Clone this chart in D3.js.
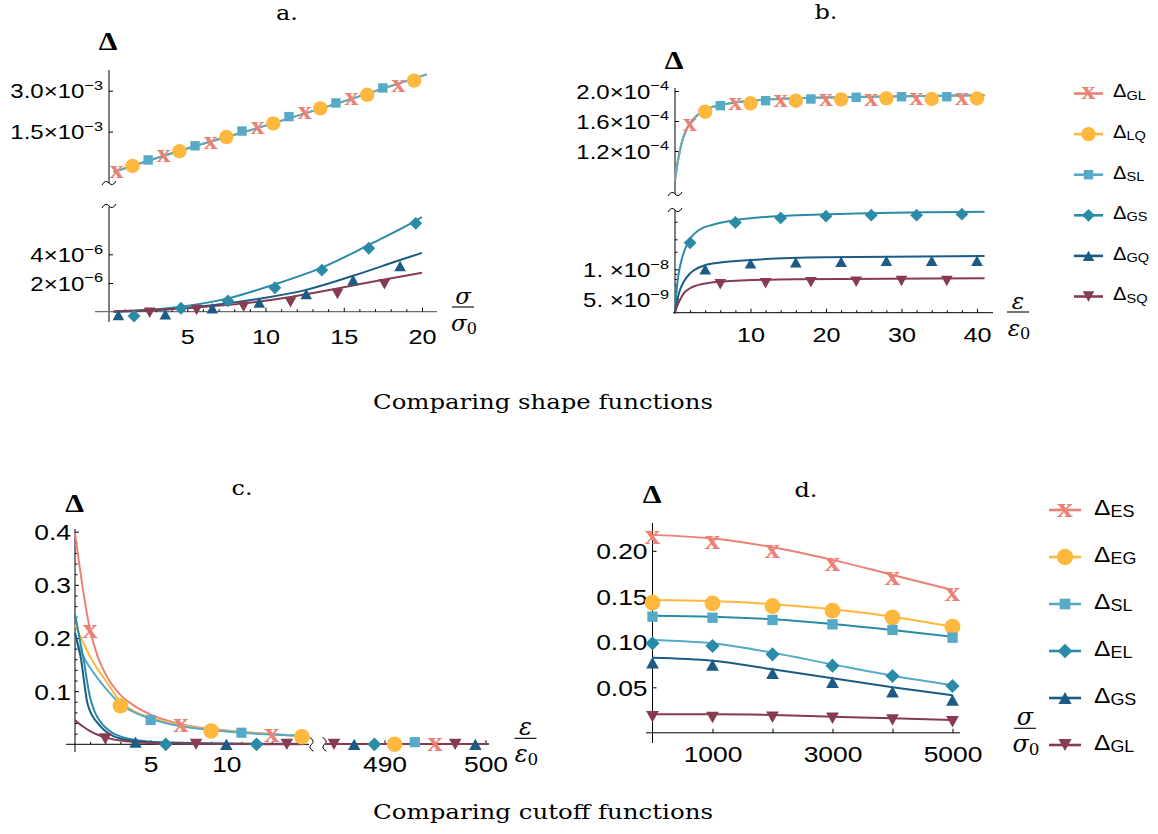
<!DOCTYPE html>
<html>
<head>
<meta charset="utf-8">
<script src="https://cdn.jsdelivr.net/npm/d3@7"></script>
<style>
  body { margin: 0; background: #fff; }
  svg { display: block; }
</style>
</head>
<body>
<svg id="fig" width="1158" height="834"></svg>
<script>
// ===================== data =====================
// Panel a: Δ against σ/σ0 (upper part ~1e-3, lower part ~1e-6)
const aMarkGL = [[0.5,0.005e-3],[3.5,0.58e-3],[6.5,1.09e-3],[9.5,1.62e-3],[12.5,2.17e-3],[15.5,2.68e-3],[18.5,3.17e-3]];
const aMarkLQ = [[1.5,0.24e-3],[4.5,0.78e-3],[7.5,1.30e-3],[10.5,1.80e-3],[13.5,2.35e-3],[16.5,2.85e-3],[19.5,3.37e-3]];
const aMarkSL = [[2.5,0.46e-3],[5.5,0.98e-3],[8.5,1.52e-3],[11.5,2.05e-3],[14.5,2.55e-3],[17.5,3.10e-3]];
const aLineGL = [[0.3,0.02e-3],[5,0.88e-3],[10,1.72e-3],[15,2.61e-3],[20.3,3.60e-3]];
const aLineLQ = [[0.3,0.02e-3],[5,0.88e-3],[10,1.72e-3],[15,2.61e-3],[20.3,3.60e-3]];
const aLineSL = [[0.3,0.02e-3],[5,0.88e-3],[10,1.72e-3],[15,2.61e-3],[20.3,3.60e-3]];
const aMarkGS = [[1.6,-0.3e-6],[4.6,0.24e-6],[7.6,0.75e-6],[10.6,1.67e-6],[13.6,2.9e-6],[16.6,4.42e-6],[19.6,6.16e-6]];
const aMarkGQ = [[0.6,-0.23e-6],[3.6,-0.18e-6],[6.6,0.24e-6],[9.6,0.63e-6],[12.6,1.23e-6],[15.6,2.21e-6],[18.6,3.18e-6]];
const aMarkSQ = [[2.6,-0.07e-6],[5.6,0.12e-6],[8.6,0.35e-6],[11.6,0.65e-6],[14.6,1.23e-6],[17.6,1.91e-6]];
const aLineGS = [[0.3,0.02e-6],[2.5,0.12e-6],[4.6,0.35e-6],[7.6,0.93e-6],[10.6,1.91e-6],[13.6,3.07e-6],[16.6,4.65e-6],[19.6,6.34e-6],[20,6.6e-6]];
const aLineGQ = [[0.3,0.0],[3.6,0.15e-6],[6.6,0.45e-6],[9.6,0.9e-6],[12.6,1.52e-6],[15.6,2.5e-6],[18.6,3.6e-6],[20,4.1e-6]];
const aLineSQ = [[0.3,0.02e-6],[2.6,0.12e-6],[5.6,0.3e-6],[8.6,0.58e-6],[11.6,1.03e-6],[14.6,1.62e-6],[17.6,2.25e-6],[20,2.72e-6]];

// Panel b: Δ against ε/ε0 (upper part ~1e-4, lower part ~1e-8, log)
const bMarkGL = [[2,1.547e-4],[8,1.827e-4],[14,1.867e-4],[20,1.88e-4],[26,1.88e-4],[32,1.887e-4],[38,1.887e-4]];
const bMarkLQ = [[4,1.724e-4],[10,1.836e-4],[16,1.871e-4],[22,1.889e-4],[28,1.902e-4],[34,1.893e-4],[40,1.90e-4]];
const bMarkSL = [[6,1.804e-4],[12,1.871e-4],[18,1.893e-4],[24,1.916e-4],[30,1.924e-4],[36,1.924e-4]];
const bLineTop = [[0,0.81e-4],[0.3,1.02e-4],[0.66,1.21e-4],[1,1.35e-4],[1.5,1.48e-4],[2,1.57e-4],[3,1.68e-4],[4,1.75e-4],[6,1.81e-4],[10,1.87e-4],[15,1.9e-4],[20,1.912e-4],[30,1.93e-4],[41,1.942e-4]];
const bMarkGS = [[2,1.845e-8],[8,2.95e-8],[14,3.28e-8],[20,3.41e-8],[26,3.49e-8],[32,3.49e-8],[38,3.57e-8]];
const bMarkGQ = [[4,1.0e-8],[10,1.148e-8],[16,1.175e-8],[22,1.19e-8],[28,1.22e-8],[34,1.22e-8],[40,1.22e-8]];
const bMarkSQ = [[6,7.08e-9],[12,7.24e-9],[18,7.41e-9],[24,7.5e-9],[30,7.64e-9],[36,7.64e-9]];
const bLineGS = [[0,3.7e-9],[0.2,6e-9],[0.4,8.2e-9],[0.66,1.06e-8],[1,1.35e-8],[1.77,1.89e-8],[3.3,2.51e-8],[5,2.8e-8],[8,3.11e-8],[14,3.43e-8],[24,3.63e-8],[41,3.77e-8]];
const bLineGQ = [[0,3.7e-9],[0.3,4.9e-9],[0.66,6.2e-9],[1.2,7.6e-9],[2,9.1e-9],[4,1.1e-8],[6,1.17e-8],[10,1.24e-8],[20,1.32e-8],[41,1.36e-8]];
const bLineSQ = [[0,3.7e-9],[0.3,4.3e-9],[0.66,4.93e-9],[1.2,5.8e-9],[2,6.45e-9],[4,7.2e-9],[6,7.5e-9],[16,7.94e-9],[41,8.13e-9]];

// Panel c: Δ against ε/ε0, two x segments (0–15 and 484–500)
const cMarkES = [[1,0.212],[7,0.035],[13,0.016],[495,0.0]];
const cMarkEG = [[3,0.0726],[9,0.025],[15,0.0143],[491,0.0]];
const cMarkSL = [[5,0.0457],[11,0.0218],[493,0.004]];
const cMarkEL = [[6,0.0],[12,0.0],[489,0.0]];
const cMarkGS = [[4,0.004],[10,0.0],[487,0.0],[499,0.0]];
const cMarkGL = [[2,0.01],[8,0.0],[14,0.0],[485,0.0],[497,0.0]];
const cLineES = [[0,0.397],[0.25,0.345],[0.5,0.296],[0.75,0.252],[1,0.215],[1.5,0.165],[2,0.133],[3,0.093],[4,0.071],[5,0.056],[7,0.038],[10,0.026],[13,0.019],[15,0.016]];
const cLineEG = [[0,0.225],[0.5,0.194],[1,0.165],[1.5,0.141],[2,0.121],[3,0.08],[4,0.061],[5,0.05],[7,0.036],[9,0.028],[12,0.021],[15,0.0165]];
const cLineSL = [[0,0.205],[0.5,0.168],[1,0.144],[1.5,0.124],[2,0.106],[3,0.076],[4,0.059],[5,0.048],[7,0.034],[9,0.027],[12,0.02],[15,0.016]];
const cLineEL = [[0,0.245],[0.2,0.215],[0.4,0.185],[0.6,0.155],[0.8,0.118],[1,0.088],[1.25,0.065],[1.5,0.05],[2,0.032],[2.5,0.021],[3,0.015],[4,0.008],[5,0.005],[7,0.003],[10,0.0015],[15,0.001]];
const cLineGS = [[0,0.21],[0.2,0.185],[0.4,0.16],[0.6,0.118],[0.8,0.08],[1,0.062],[1.25,0.049],[1.5,0.04],[2,0.025],[2.5,0.016],[3,0.011],[4,0.006],[5,0.004],[7,0.002],[10,0.001],[15,0.0005]];
const cLineGL = [[0,0.045],[0.5,0.034],[1,0.025],[1.5,0.018],[2,0.013],[3,0.007],[4,0.004],[6,0.0015],[10,0.0005],[15,0.0002]];
const cTailLine = [[484.2,0.0006],[500.3,0.0006]];

// Panel d: Δ against σ/σ0
const dSigma = [0, 1000, 2000, 3000, 4000, 5000];
const dMarkES = [0.214, 0.209, 0.199, 0.185, 0.169, 0.152];
const dMarkEG = [0.143, 0.1423, 0.1393, 0.1342, 0.1269, 0.1166];
const dMarkSL = [0.1276, 0.1265, 0.124, 0.1192, 0.113, 0.1045];
const dMarkEL = [0.0983, 0.0954, 0.0862, 0.0738, 0.0624, 0.0514];
const dMarkGS = [0.077, 0.0745, 0.0654, 0.0555, 0.0452, 0.036];
const dMarkGL = [0.0177, 0.0169, 0.017, 0.016, 0.0141, 0.0122];
const dLineES = [0.2175, 0.2135, 0.204, 0.19, 0.1735, 0.157];
const dLineEG = [0.146, 0.1448, 0.1412, 0.1357, 0.1276, 0.1166];
const dLineSL = [0.1287, 0.1276, 0.1247, 0.1196, 0.113, 0.1056];
const dLineEL = [0.102, 0.0983, 0.088, 0.0752, 0.0628, 0.0525];
const dLineGS = [0.0825, 0.0792, 0.0698, 0.0599, 0.05, 0.0412];
const dLineGL = [0.0203, 0.0203, 0.0196, 0.0177, 0.016, 0.014];

// Tick values and labels
const aTopTicks = [1.5e-3, 3.0e-3];
const aTopLabels = [['1.5×10','−3'], ['3.0×10','−3']];
const aBotTicks = [2e-6, 4e-6];
const aBotLabels = [['2×10','−6'], ['4×10','−6']];
const aXTicks = [5, 10, 15, 20];
const bTopTicks = [1.2e-4, 1.6e-4, 2.0e-4];
const bTopLabels = [['1.2×10','−4'], ['1.6×10','−4'], ['2.0×10','−4']];
const bBotTicks = [5e-9, 1e-8];
const bBotLabels = [['5. ×10','−9'], ['1. ×10','−8']];
const bBotMinor = [6e-9, 7e-9, 8e-9, 9e-9, 1.5e-8, 2e-8, 3e-8];
const bXTicks = [10, 20, 30, 40];
const cYTicks = [0.1, 0.2, 0.3, 0.4];
const cXTicks1 = [5, 10];
const cXTicks2 = [490, 500];
const dYTicks = [0.05, 0.10, 0.15, 0.20];
const dYLabels = ['0.05', '0.10', '0.15', '0.20'];
const dXTicks = [1000, 2000, 3000, 4000, 5000];
const dXLabels = ['1000', '', '3000', '', '5000'];

// Legend entries
const legendTopNames = ['GL', 'LQ', 'SL', 'GS', 'GQ', 'SQ'];
const legendBotNames = ['ES', 'EG', 'SL', 'EL', 'GS', 'GL'];

// ===================== styling =====================
const SANS = '"Liberation Sans", Arial, Helvetica, sans-serif';
const SERIF = '"DejaVu Serif", "Liberation Serif", serif';
const TIMES = '"Liberation Serif", "Times New Roman", serif';
const WIDE = 1.2;   // horizontal stretch of the sans labels
const COL = {
  salmon: '#ec8173', orange: '#fdb83d', light: '#56aac7',
  teal: '#2a8ba8', navy: '#1b5b85', maroon: '#873b50'
};
const topStyle = {
  GL: { c: COL.salmon, m: 'x' }, LQ: { c: COL.orange, m: 'circle' }, SL: { c: COL.light, m: 'square' },
  GS: { c: COL.teal, m: 'diamond' }, GQ: { c: COL.navy, m: 'up' }, SQ: { c: COL.maroon, m: 'down' }
};
const botStyle = {
  ES: { c: COL.salmon, m: 'x' }, EG: { c: COL.orange, m: 'circle' }, SL: { c: COL.light, m: 'square' },
  EL: { c: COL.teal, m: 'diamond' }, GS: { c: COL.navy, m: 'up' }, GL: { c: COL.maroon, m: 'down' }
};

const svg = d3.select('#fig');
svg.append('rect').attr('width', 1158).attr('height', 834).attr('fill', '#fff');

// ===================== helpers =====================
function marker(g, shape, cx, cy, color, s) {
  if (shape === 'x') {
    g.append('text').attr('x', 0).attr('y', 0)
      .attr('transform', `translate(${cx},${cy + 5.8 * s}) scale(1.12,1)`)
      .attr('text-anchor', 'middle').attr('fill', color)
      .style('font-family', TIMES).style('font-weight', 'bold').style('font-size', (25 * s) + 'px').text('x');
  } else if (shape === 'circle') {
    g.append('circle').attr('cx', cx).attr('cy', cy).attr('r', 7.2 * s).attr('fill', color);
  } else if (shape === 'square') {
    const h = 4.7 * s;
    g.append('rect').attr('x', cx - h).attr('y', cy - h).attr('width', 2 * h).attr('height', 2 * h).attr('fill', color);
  } else if (shape === 'diamond') {
    const h = 6.4 * s;
    g.append('path').attr('d', `M${cx},${cy - h}L${cx + h},${cy}L${cx},${cy + h}L${cx - h},${cy}Z`).attr('fill', color);
  } else if (shape === 'up') {
    const w = 5.8 * s, h = 5.2 * s;
    g.append('path').attr('d', `M${cx - w},${cy + h}L${cx + w},${cy + h}L${cx},${cy - h}Z`).attr('fill', color);
  } else if (shape === 'down') {
    const w = 5.8 * s, h = 5.2 * s;
    g.append('path').attr('d', `M${cx - w},${cy - h}L${cx + w},${cy - h}L${cx},${cy + h}Z`).attr('fill', color);
  }
}

function curvePath(g, data, xs, ys, color, width) {
  g.append('path').datum(data)
    .attr('d', d3.line().x(d => xs(d[0])).y(d => ys(d[1])).curve(d3.curveMonotoneX))
    .attr('fill', 'none').attr('stroke', color).attr('stroke-width', width || 2)
    .attr('stroke-linejoin', 'round').attr('stroke-linecap', 'butt');
}

function marks(g, data, xs, ys, st, s) {
  data.forEach(d => marker(g, st.m, xs(d[0]), ys(d[1]), st.c, s));
}

function labelText(t, lab, fs) {
  if (Array.isArray(lab)) {
    t.append('tspan').text(lab[0]);
    t.append('tspan').attr('dy', -fs * 0.42).style('font-size', (fs * 0.68) + 'px').text(lab[1]);
  } else {
    t.text(lab);
  }
}

function leftAxis(g, scale, x, values, labels, fs, pad, tick) {
  const ax = d3.axisLeft(scale).tickValues(values).tickSizeInner(-(tick || 4)).tickSizeOuter(0)
    .tickPadding(pad).tickFormat(() => '');
  const a = g.append('g').attr('transform', `translate(${x},0)`).call(ax);
  a.select('.domain').remove();
  a.selectAll('.tick line').attr('stroke', '#000').attr('stroke-width', 1);
  a.selectAll('.tick text').each(function (d, i) {
    const t = d3.select(this);
    const x0 = +t.attr('x');
    t.attr('fill', '#000').attr('dy', '0.36em').attr('x', 0)
      .attr('transform', `translate(${x0},0) scale(${WIDE},1)`)
      .style('font-family', SANS).style('font-size', fs + 'px');
    if (labels) labelText(t, labels[i], fs);
  });
  return a;
}

function bottomAxis(g, scale, y, values, labels, fs, pad, tick) {
  const ax = d3.axisBottom(scale).tickValues(values).tickSizeInner(-(tick || 4)).tickSizeOuter(0)
    .tickPadding(pad).tickFormat(() => '');
  const a = g.append('g').attr('transform', `translate(0,${y})`).call(ax);
  a.select('.domain').remove();
  a.selectAll('.tick line').attr('stroke', '#000').attr('stroke-width', 1);
  a.selectAll('.tick text').each(function (d, i) {
    const t = d3.select(this);
    const y0 = +t.attr('y');
    t.attr('fill', '#000').attr('y', 0)
      .attr('transform', `translate(0,${y0}) scale(${WIDE},1)`)
      .style('font-family', SANS).style('font-size', fs + 'px');
    if (labels) labelText(t, labels[i], fs);
  });
  return a;
}

function minorLeft(g, scale, x, values) {
  const a = g.append('g').attr('transform', `translate(${x},0)`)
    .call(d3.axisLeft(scale).tickValues(values).tickSizeInner(-2.5).tickSizeOuter(0).tickFormat(() => ''));
  a.select('.domain').remove();
  a.selectAll('.tick text').remove();
  a.selectAll('.tick line').attr('stroke', '#000');
}

function minorBottom(g, scale, y, values) {
  const a = g.append('g').attr('transform', `translate(0,${y})`)
    .call(d3.axisBottom(scale).tickValues(values).tickSizeInner(-2.5).tickSizeOuter(0).tickFormat(() => ''));
  a.select('.domain').remove();
  a.selectAll('.tick text').remove();
  a.selectAll('.tick line').attr('stroke', '#000');
}

function hLine(g, x1, x2, y, color, w) {
  g.append('line').attr('x1', x1).attr('x2', x2).attr('y1', y).attr('y2', y)
    .attr('stroke', color || '#000').attr('stroke-width', w || 1);
}
function vLine(g, x, y1, y2, color, w) {
  g.append('line').attr('x1', x).attr('x2', x).attr('y1', y1).attr('y2', y2)
    .attr('stroke', color || '#000').attr('stroke-width', w || 1);
}

// axis break squiggles
function breakH(g, cx, cy) {
  g.append('path').attr('d', `M${cx - 7},${cy + 2}Q${cx - 3.5},${cy - 4} ${cx},${cy}T${cx + 7},${cy - 2}`)
    .attr('fill', 'none').attr('stroke', '#000').attr('stroke-width', 1);
}
function breakV(g, cx, cy) {
  g.append('path').attr('d', `M${cx - 2},${cy - 7}Q${cx + 4},${cy - 3.5} ${cx},${cy}T${cx + 2},${cy + 7}`)
    .attr('fill', 'none').attr('stroke', '#000').attr('stroke-width', 1);
}

function deltaHead(x, y) {
  svg.append('text').attr('x', 0).attr('y', 0).attr('text-anchor', 'middle')
    .attr('transform', `translate(${x},${y}) scale(1.15,1)`)
    .style('font-family', TIMES).style('font-weight', 'bold').style('font-size', '26px').text('Δ');
}

function title(x, y, s) {
  svg.append('text').attr('x', 0).attr('y', 0).attr('text-anchor', 'middle')
    .attr('transform', `translate(${x},${y}) scale(1.2,1)`)
    .style('font-family', SERIF).style('font-size', '20px').text(s);
}

function frac(x, yBar, sym, size) {
  const g = svg.append('g').style('font-family', SERIF);
  g.append('text').attr('x', x).attr('y', yBar - 3).attr('text-anchor', 'middle')
    .style('font-style', 'italic').style('font-size', size + 'px').text(sym);
  hLine(g, x - 11, x + 11, yBar, '#000', 1.1);
  const t = g.append('text').attr('x', x + 1).attr('y', yBar + 24).attr('text-anchor', 'middle')
    .style('font-size', size + 'px');
  t.append('tspan').style('font-style', 'italic').text(sym);
  t.append('tspan').attr('dy', 3).style('font-size', (size * 0.7) + 'px').text('0');
}

function legend(names, styles, x1, x2, yStart, step, dx, fsMain, fsSub, s) {
  const g = svg.append('g');
  names.forEach((n, i) => {
    const y = yStart + i * step;
    const st = styles[n];
    hLine(g, x1, x2, y, st.c, 2.6);
    marker(g, st.m, (x1 + x2) / 2, y, st.c, s);
    const t = g.append('text').attr('x', 0).attr('y', 0)
      .attr('transform', `translate(${dx},${y + fsMain * 0.22}) scale(1.12,1)`)
      .style('font-family', SANS).style('font-size', fsMain + 'px');
    t.append('tspan').text('Δ');
    t.append('tspan').attr('dy', fsMain * 0.12).style('font-size', fsSub + 'px').text(n);
  });
}

// ===================== panel a =====================
const xA = d3.scaleLinear().domain([0, 20]).range([109, 422]);
const yATop = d3.scaleLinear().domain([0, 3.0e-3]).range([172.5, 90.7]);
const yABot = d3.scaleLinear().domain([0, 4e-6]).range([311.7, 254.3]);
{
  const g = svg.append('g');
  vLine(g, xA(0), 70, 183);
  vLine(g, xA(0), 207, 322);
  breakH(g, xA(0), 183);
  breakH(g, xA(0), 206);
  hLine(g, 95, 437, yABot(0), '#6e6e6e', 1.3);
  leftAxis(g, yATop, xA(0), aTopTicks, aTopLabels, 20, 6);
  leftAxis(g, yABot, xA(0), aBotTicks, aBotLabels, 20, 6);
  bottomAxis(g, xA, yABot(0), aXTicks, aXTicks.map(String), 21, 17);
  minorBottom(g, xA, yABot(0), d3.range(1, 21).filter(v => v % 5 !== 0));

  const cg = g.append('g');
  curvePath(cg, aLineGL, xA, yATop, topStyle.GL.c);
  curvePath(cg, aLineLQ, xA, yATop, topStyle.LQ.c);
  curvePath(cg, aLineSL, xA, yATop, topStyle.SL.c);
  curvePath(cg, aLineGS, xA, yABot, topStyle.GS.c);
  curvePath(cg, aLineGQ, xA, yABot, topStyle.GQ.c);
  curvePath(cg, aLineSQ, xA, yABot, topStyle.SQ.c);
  const mg = g.append('g');
  marks(mg, aMarkGL, xA, yATop, topStyle.GL, 1);
  marks(mg, aMarkLQ, xA, yATop, topStyle.LQ, 1);
  marks(mg, aMarkSL, xA, yATop, topStyle.SL, 1);
  marks(mg, aMarkGS, xA, yABot, topStyle.GS, 1);
  marks(mg, aMarkGQ, xA, yABot, topStyle.GQ, 1);
  marks(mg, aMarkSQ, xA, yABot, topStyle.SQ, 1);

  title(287, 20, 'a.');
  deltaHead(108, 50);
  frac(463, 307, 'σ', 23);
}

// ===================== panel b =====================
const xB = d3.scaleLinear().domain([0, 40]).range([675, 977]);
const yBTop = d3.scaleLinear().domain([1.2e-4, 2.0e-4]).range([151, 91]);
const yBBot = d3.scaleLog().domain([5e-9, 1e-8]).range([299.3, 269.3]);
{
  const g = svg.append('g');
  vLine(g, xB(0), 88, 194);
  vLine(g, xB(0), 210, 314);
  breakH(g, xB(0), 194);
  breakH(g, xB(0), 210);
  hLine(g, 673, 993, 312.7);
  leftAxis(g, yBTop, xB(0), bTopTicks, bTopLabels, 20, 6);
  leftAxis(g, yBBot, xB(0), bBotTicks, bBotLabels, 20, 6);
  minorLeft(g, yBBot, xB(0), bBotMinor);
  bottomAxis(g, xB, 312.7, bXTicks, bXTicks.map(String), 21, 14);
  minorBottom(g, xB, 312.7, d3.range(2, 41, 2).filter(v => v % 10 !== 0));

  const cg = g.append('g');
  curvePath(cg, bLineTop, xB, yBTop, topStyle.GL.c);
  curvePath(cg, bLineTop, xB, yBTop, topStyle.LQ.c);
  curvePath(cg, bLineTop, xB, yBTop, topStyle.SL.c);
  curvePath(cg, bLineGS, xB, yBBot, topStyle.GS.c);
  curvePath(cg, bLineGQ, xB, yBBot, topStyle.GQ.c);
  curvePath(cg, bLineSQ, xB, yBBot, topStyle.SQ.c);
  const mg = g.append('g');
  marks(mg, bMarkGL, xB, yBTop, topStyle.GL, 1);
  marks(mg, bMarkLQ, xB, yBTop, topStyle.LQ, 1);
  marks(mg, bMarkSL, xB, yBTop, topStyle.SL, 1);
  marks(mg, bMarkGS, xB, yBBot, topStyle.GS, 1);
  marks(mg, bMarkGQ, xB, yBBot, topStyle.GQ, 1);
  marks(mg, bMarkSQ, xB, yBBot, topStyle.SQ, 1);

  title(826, 19, 'b.');
  deltaHead(674, 69);
  frac(1018, 312, 'ε', 23);
}

legend(legendTopNames, topStyle, 1074, 1103, 93.5, 40.6, 1113, 18, 13, 1);

// ===================== panel c =====================
const xC1 = d3.scaleLinear().domain([0, 10]).range([75, 226.3]);
const xC2 = d3.scaleLinear().domain([490, 500]).range([384.5, 485.5]);
const xC = v => (v < 100 ? xC1(v) : xC2(v));
const yC = d3.scaleLinear().domain([0, 0.4]).range([744.3, 531.7]);
{
  const g = svg.append('g');
  vLine(g, xC1(0), 529, 752);
  hLine(g, 66, 309, yC(0));
  hLine(g, 325, 488, yC(0));
  breakV(g, 311.5, yC(0));
  breakV(g, 324.5, yC(0));
  leftAxis(g, yC, xC1(0), cYTicks, cYTicks.map(v => v.toFixed(1)), 22, 4);
  minorLeft(g, yC, xC1(0), d3.range(1, 20).map(v => v * 0.02).filter(v => Math.abs(v * 10 - Math.round(v * 10)) > 1e-6));
  bottomAxis(g, xC1, yC(0), cXTicks1, cXTicks1.map(String), 22, 12);
  minorBottom(g, xC1, yC(0), d3.range(1, 15).filter(v => v % 5 !== 0));
  bottomAxis(g, xC2, yC(0), cXTicks2, cXTicks2.map(String), 22, 12);

  const cg = g.append('g');
  const segLines = [[cLineES, 'ES'], [cLineEG, 'EG'], [cLineSL, 'SL'], [cLineEL, 'EL'], [cLineGS, 'GS'], [cLineGL, 'GL']];
  segLines.forEach(([data, n]) => curvePath(cg, data, xC, yC, botStyle[n].c));
  segLines.forEach(([, n]) => curvePath(cg, cTailLine, xC, yC, botStyle[n].c));
  const mg = g.append('g');
  marks(mg, cMarkES, xC, yC, botStyle.ES, 1.08);
  marks(mg, cMarkEG, xC, yC, botStyle.EG, 1.08);
  marks(mg, cMarkSL, xC, yC, botStyle.SL, 1.08);
  marks(mg, cMarkEL, xC, yC, botStyle.EL, 1.08);
  marks(mg, cMarkGS, xC, yC, botStyle.GS, 1.08);
  marks(mg, cMarkGL, xC, yC, botStyle.GL, 1.08);

  title(242, 495, 'c.');
  deltaHead(74.5, 512);
  frac(525.5, 738.3, 'ε', 24);
}

// ===================== panel d =====================
const xD = d3.scaleLinear().domain([0, 5000]).range([652.5, 952.5]);
const yD = d3.scaleLinear().domain([0, 0.2]).range([732.8, 550.8]);
{
  const g = svg.append('g');
  vLine(g, xD(0), 523, 743);
  hLine(g, 646, 960, yD(0));
  leftAxis(g, yD, xD(0), dYTicks, dYLabels, 22, 5);
  bottomAxis(g, xD, yD(0), dXTicks, dXLabels, 22, 14);

  // lines: the squares carry the darker teal stroke, the diamonds the lighter one
  const lineSets = [[dLineES, COL.salmon], [dLineEG, COL.orange], [dLineSL, COL.teal],
                    [dLineEL, COL.light], [dLineGS, COL.navy], [dLineGL, COL.maroon]];
  const cg = g.append('g');
  lineSets.forEach(([vals, c]) => curvePath(cg, dSigma.map((s, i) => [s, vals[i]]), xD, yD, c));
  const mg = g.append('g');
  const markSets = [[dMarkES, 'ES'], [dMarkEG, 'EG'], [dMarkSL, 'SL'], [dMarkEL, 'EL'], [dMarkGS, 'GS'], [dMarkGL, 'GL']];
  markSets.forEach(([vals, n]) => marks(mg, dSigma.map((s, i) => [s, vals[i]]), xD, yD, botStyle[n], 1.1));

  title(806, 497, 'd.');
  deltaHead(652, 503);
  frac(1025, 728.3, 'σ', 24);
}

legend(legendBotNames, botStyle, 1049, 1081, 510, 47, 1094, 22, 16, 1.13);

// ===================== captions =====================
svg.append('text').attr('x', 543).attr('y', 409).attr('text-anchor', 'middle')
  .attr('textLength', 340).attr('lengthAdjust', 'spacingAndGlyphs')
  .style('font-family', SERIF).style('font-size', '20px').text('Comparing shape functions');
svg.append('text').attr('x', 543).attr('y', 819).attr('text-anchor', 'middle')
  .attr('textLength', 340).attr('lengthAdjust', 'spacingAndGlyphs')
  .style('font-family', SERIF).style('font-size', '20px').text('Comparing cutoff functions');
</script>
</body>
</html>
